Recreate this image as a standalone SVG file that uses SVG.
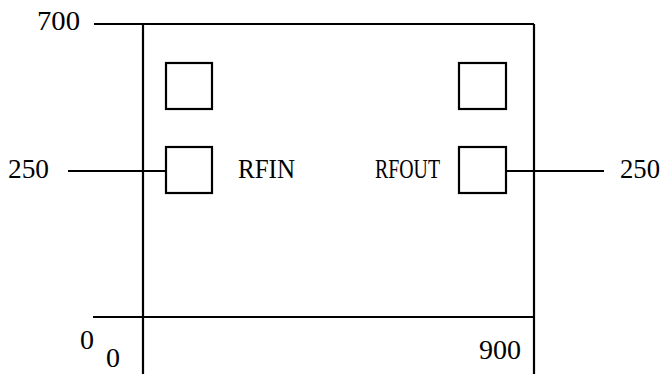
<svg xmlns="http://www.w3.org/2000/svg" width="665" height="374" viewBox="0 0 665 374">
<style>
.ln{stroke:#000;stroke-width:2.2;fill:none}
.pad{stroke:#000;stroke-width:2.2;fill:#fff}
.t{font-family:'Liberation Serif',serif;font-size:28px;fill:#000}
.lb{font-family:'Liberation Serif',serif;font-size:27px;fill:#000}
</style>
<rect width="665" height="374" fill="#fff"/>
<g id="connectors">
<line class="ln" x1="94" y1="24" x2="534" y2="24"/>
<line class="ln" x1="93" y1="317" x2="534" y2="317"/>
<line class="ln" x1="143" y1="24" x2="143" y2="374"/>
<line class="ln" x1="534" y1="24" x2="534" y2="374"/>
<line class="ln" x1="68" y1="171" x2="166" y2="171"/>
<line class="ln" x1="506" y1="171" x2="604" y2="171"/>
</g>
<g id="pad-left-top"><rect class="pad" x="166" y="63" width="46" height="46"/></g>
<g id="pad-left-bottom"><rect class="pad" x="166" y="147" width="46" height="46"/></g>
<g id="pad-right-top"><rect class="pad" x="459" y="63" width="47" height="46"/></g>
<g id="pad-right-bottom"><rect class="pad" x="459" y="147" width="47" height="46"/></g>
<g id="labels">
<text class="t" x="37" y="30" textLength="43" lengthAdjust="spacingAndGlyphs">700</text>
<text class="t" x="8" y="178" textLength="41" lengthAdjust="spacingAndGlyphs">250</text>
<text class="t" x="620" y="178" textLength="40" lengthAdjust="spacingAndGlyphs">250</text>
<text class="lb" x="238" y="178" textLength="57" lengthAdjust="spacingAndGlyphs">RFIN</text>
<text class="lb" x="375" y="178" textLength="65" lengthAdjust="spacingAndGlyphs">RFOUT</text>
<text class="t" x="80" y="349">0</text>
<text class="t" x="106" y="367">0</text>
<text class="t" x="479" y="359" textLength="42" lengthAdjust="spacingAndGlyphs">900</text>
</g>
</svg>
